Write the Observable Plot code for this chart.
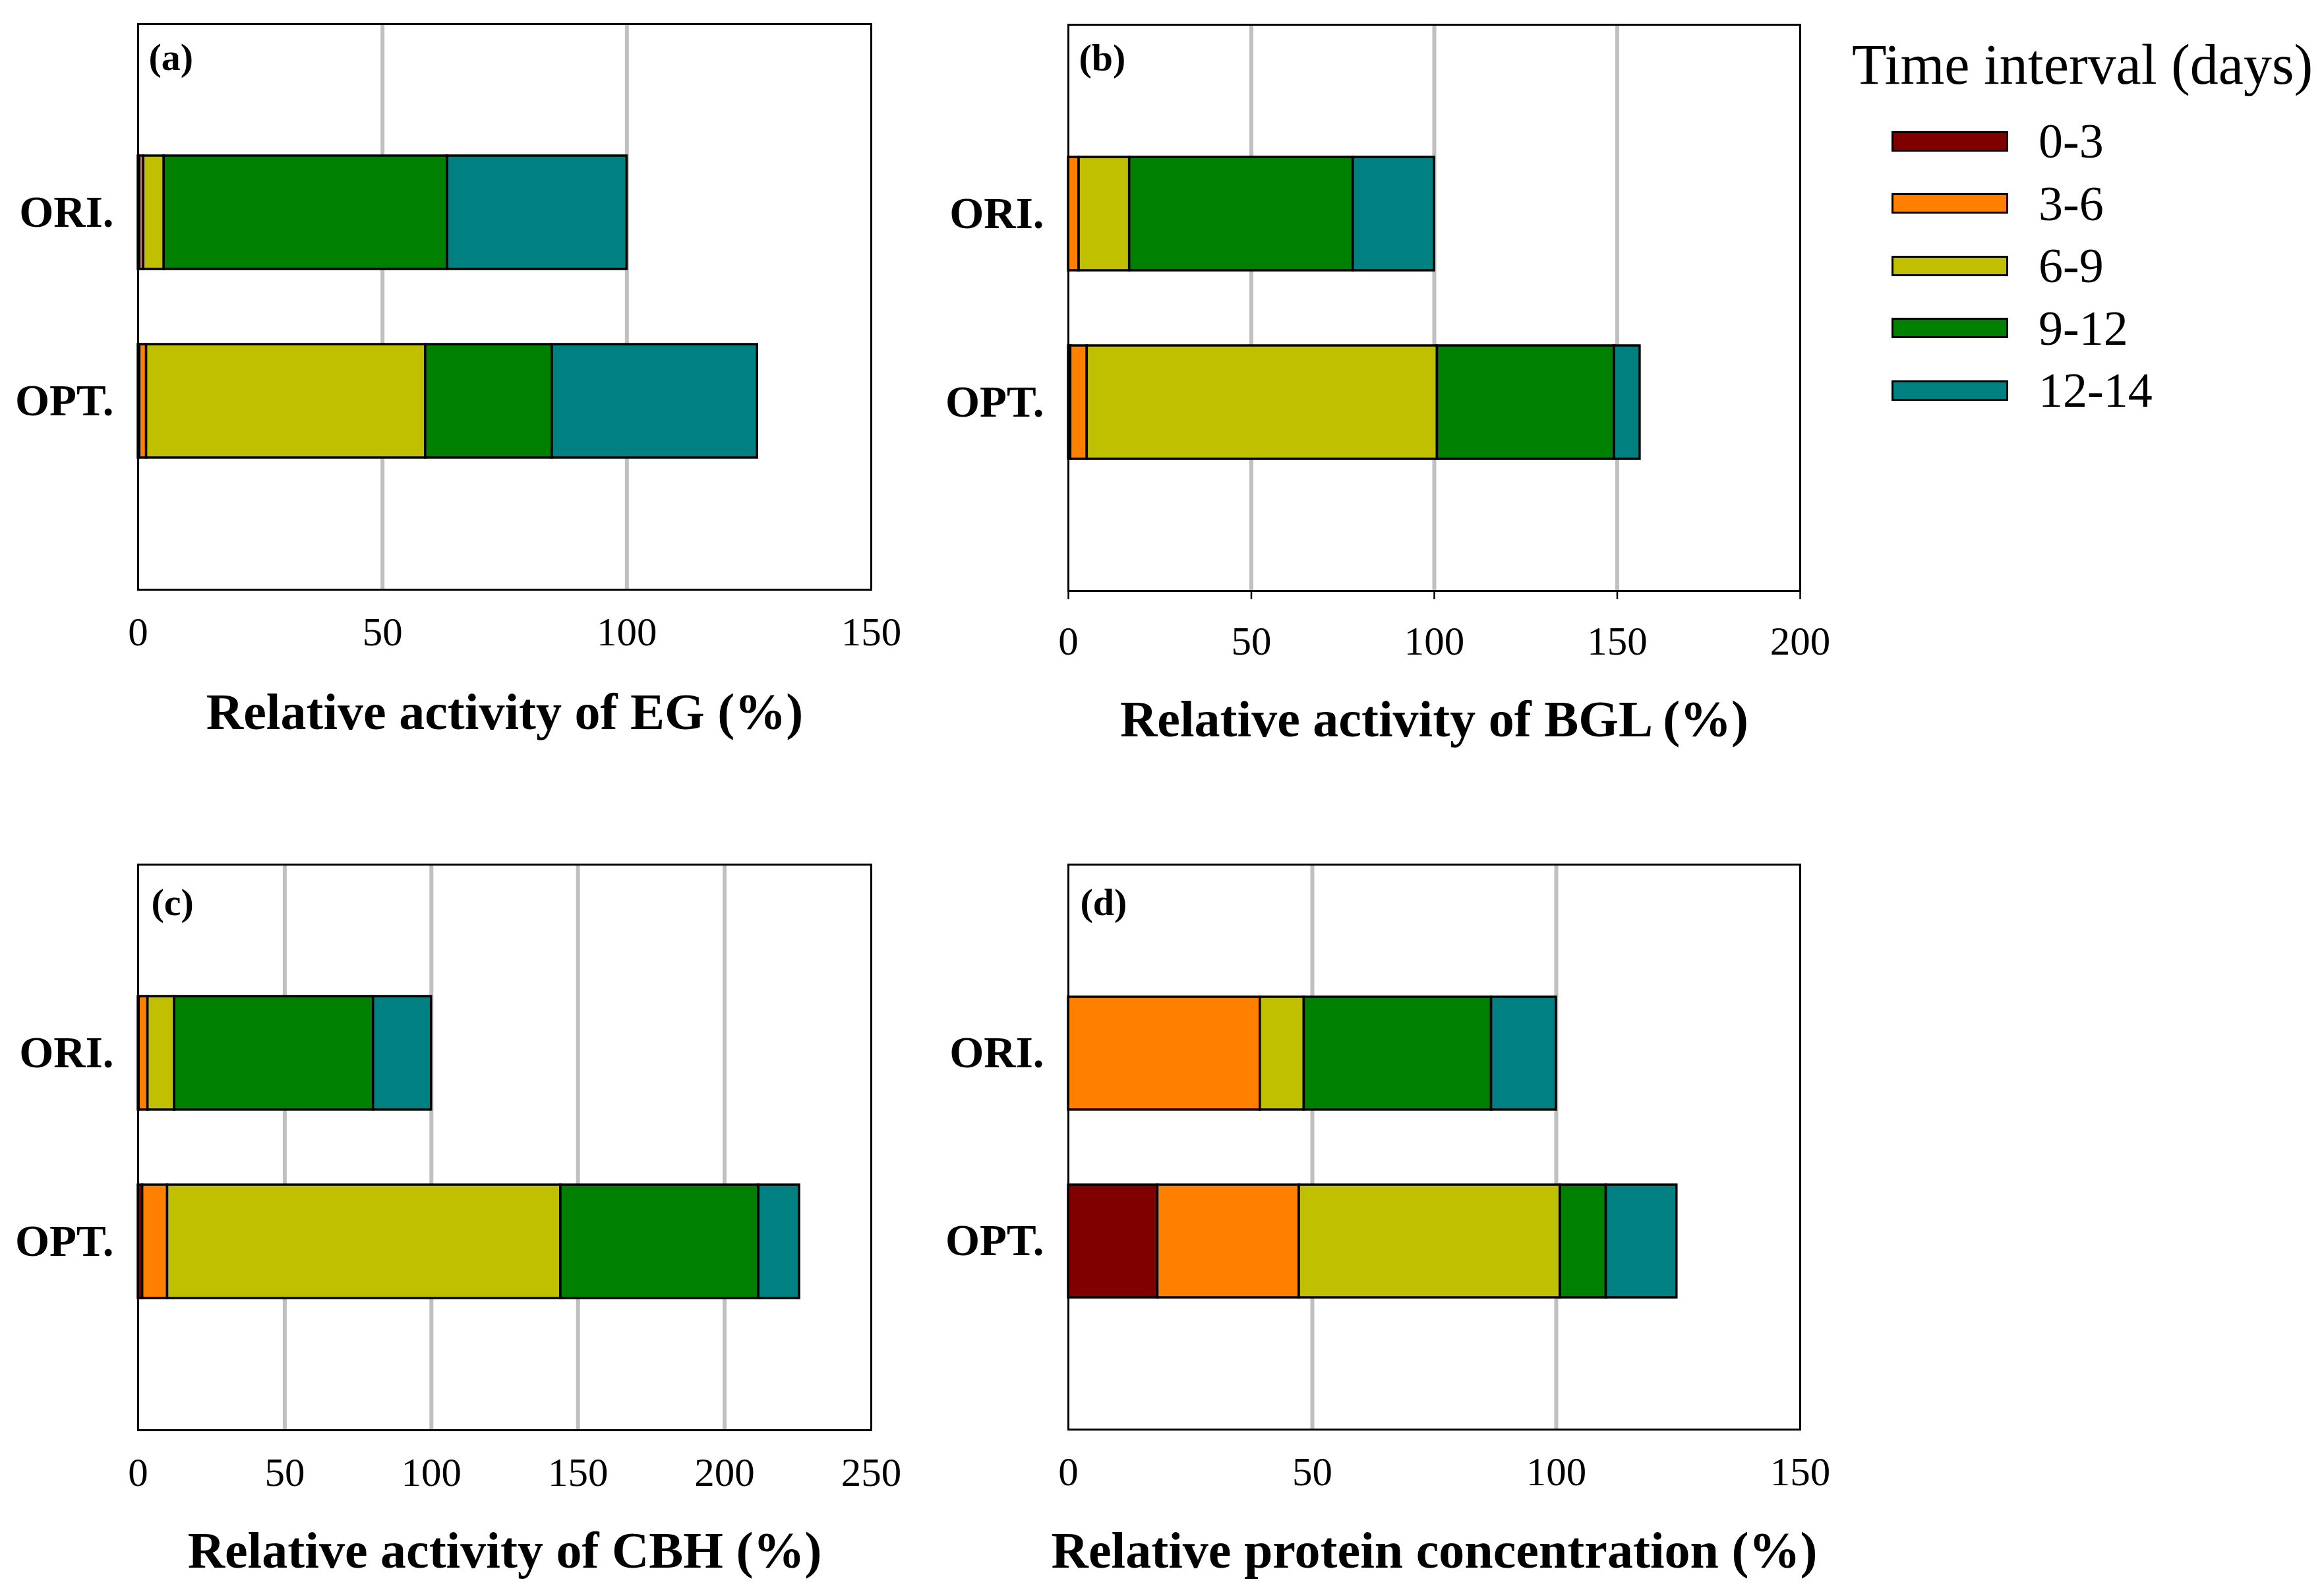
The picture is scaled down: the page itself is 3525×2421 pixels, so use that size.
<!DOCTYPE html>
<html>
<head>
<meta charset="utf-8">
<script src="https://cdn.jsdelivr.net/npm/d3@7"></script>
<script src="https://cdn.jsdelivr.net/npm/@observablehq/plot@0.6"></script>
<style>
html, body { margin: 0; padding: 0; background: #fff; }
#root { position: relative; width: 3525px; height: 2421px; background: #fff; font-family: "Liberation Serif", "Times New Roman", serif; overflow: hidden; }
#root > svg { position: absolute; }
.legend { position: absolute; left: 2809px; top: 0; color: #000; }
.legend .ltitle { position: absolute; left: 0; top: 55px; font-size: 86px; line-height: 86px; white-space: nowrap; }
.legend .rows { position: absolute; left: 0; top: 166.75px; }
.legend .row { display: flex; align-items: center; height: 94.5px; }
.legend .sw { box-sizing: border-box; width: 177px; height: 31px; border: 3px solid #000; margin-left: 60px; }
.legend .lab { margin-left: 46px; font-size: 74px; line-height: 74px; white-space: nowrap; }
</style>
</head>
<body>
<div id="root"></div>
<script>
// ---------- data ----------
const samples = ["ORI.", "OPT."];
const intervals = ["0-3", "3-6", "6-9", "9-12", "12-14"];
const colors = ["#800000", "#FF8000", "#C0C000", "#008000", "#008080"];

// values per time interval (0-3, 3-6, 6-9, 9-12, 12-14), in %
const egORI  = [0.3, 0.8, 4.2, 58.0, 36.7];
const egOPT  = [0.3, 1.4, 57.1, 25.9, 42.0];
const bglORI = [0.0, 2.9, 13.8, 61.1, 22.2];
const bglOPT = [0.6, 4.5, 95.7, 48.4, 7.0];
const cbhORI = [0.3, 3.0, 9.1, 67.8, 19.8];
const cbhOPT = [1.5, 8.5, 134.1, 67.5, 13.9];
const proORI = [0.0, 39.3, 9.0, 38.4, 13.3];
const proOPT = [18.3, 29.0, 53.5, 9.4, 14.5];

const ticksEG  = [0, 50, 100, 150];
const ticksBGL = [0, 50, 100, 150, 200];
const ticksCBH = [0, 50, 100, 150, 200, 250];
const ticksPRO = [0, 50, 100, 150];

const panelLetters = ["(a)", "(b)", "(c)", "(d)"];
const axisTitles = [
  "Relative activity of EG (%)",
  "Relative activity of BGL (%)",
  "Relative activity of CBH (%)",
  "Relative protein concentration (%)"
];
const legendTitle = "Time interval (days)";

// ---------- layout ----------
const layout = [
  {left: 0,    top: 0,    width: 1400, height: 1200, mL: 209, mR: 79, mT: 36,  mB: 306, tickSize: 0,  tickPad: 41, titleDy: 211, labelDx: 16, labelDy: 28},
  {left: 1400, top: 0,    width: 1400, height: 1200, mL: 220, mR: 70, mT: 37,  mB: 304, tickSize: 13, tickPad: 40, titleDy: 220, labelDx: 16, labelDy: 28},
  {left: 0,    top: 1200, width: 1400, height: 1221, mL: 209, mR: 79, mT: 111, mB: 252, tickSize: 0,  tickPad: 41, titleDy: 208, labelDx: 20, labelDy: 35},
  {left: 1400, top: 1200, width: 1400, height: 1221, mL: 220, mR: 70, mT: 111, mB: 253, tickSize: 0,  tickPad: 41, titleDy: 209, labelDx: 18, labelDy: 35}
];

const root = document.getElementById("root");

function panel(i, ori, opt, ticks) {
  const L = layout[i];
  const rows = [];
  samples.forEach((s, si) => {
    const vals = si === 0 ? ori : opt;
    intervals.forEach((iv, k) => rows.push({sample: s, interval: iv, value: vals[k]}));
  });
  const svg = Plot.plot({
    width: L.width,
    height: L.height,
    marginLeft: L.mL,
    marginRight: L.mR,
    marginTop: L.mT,
    marginBottom: L.mB,
    style: {fontFamily: '"Liberation Serif", "Times New Roman", serif', background: "white", overflow: "visible", color: "black"},
    x: {domain: [ticks[0], ticks[ticks.length - 1]], label: null},
    y: {type: "band", domain: samples, paddingInner: 0.4, paddingOuter: 0.7, label: null},
    color: {domain: intervals, range: colors},
    marks: [
      Plot.gridX(ticks.slice(1, -1), {stroke: "#C0C0C0", strokeOpacity: 1, strokeWidth: 6}),
      Plot.barX(rows, Plot.stackX({x: "value", y: "sample", fill: "interval", stroke: "black", strokeWidth: 3.5, order: intervals})),
      Plot.frame({stroke: "black", strokeWidth: 3}),
      Plot.axisX({ticks, tickSize: L.tickSize, tickPadding: L.tickPad, fontSize: 61, stroke: "black", strokeWidth: 2.5, label: null}),
      Plot.axisY({tickSize: 0, tickPadding: 37, fontSize: 67, fontWeight: "bold", label: null}),
      Plot.text([panelLetters[i]], {frameAnchor: "top-left", dx: L.labelDx, dy: L.labelDy, lineAnchor: "top", textAnchor: "start", fontSize: 58, fontWeight: "bold", fill: "black"}),
      Plot.text([axisTitles[i]], {frameAnchor: "bottom", dy: L.titleDy, lineAnchor: "bottom", fontSize: 78, fontWeight: "bold", fill: "black"})
    ]
  });
  svg.style.left = L.left + "px";
  svg.style.top = L.top + "px";
  root.appendChild(svg);
}

panel(0, egORI, egOPT, ticksEG);
panel(1, bglORI, bglOPT, ticksBGL);
panel(2, cbhORI, cbhOPT, ticksCBH);
panel(3, proORI, proOPT, ticksPRO);

// ---------- legend ----------
const leg = document.createElement("div");
leg.className = "legend";
const lt = document.createElement("div");
lt.className = "ltitle";
lt.textContent = legendTitle;
leg.appendChild(lt);
const rowsDiv = document.createElement("div");
rowsDiv.className = "rows";
intervals.forEach((iv, k) => {
  const r = document.createElement("div");
  r.className = "row";
  const sw = document.createElement("div");
  sw.className = "sw";
  sw.style.background = colors[k];
  const lab = document.createElement("div");
  lab.className = "lab";
  lab.textContent = iv;
  r.appendChild(sw);
  r.appendChild(lab);
  rowsDiv.appendChild(r);
});
leg.appendChild(rowsDiv);
root.appendChild(leg);
</script>
</body>
</html>
